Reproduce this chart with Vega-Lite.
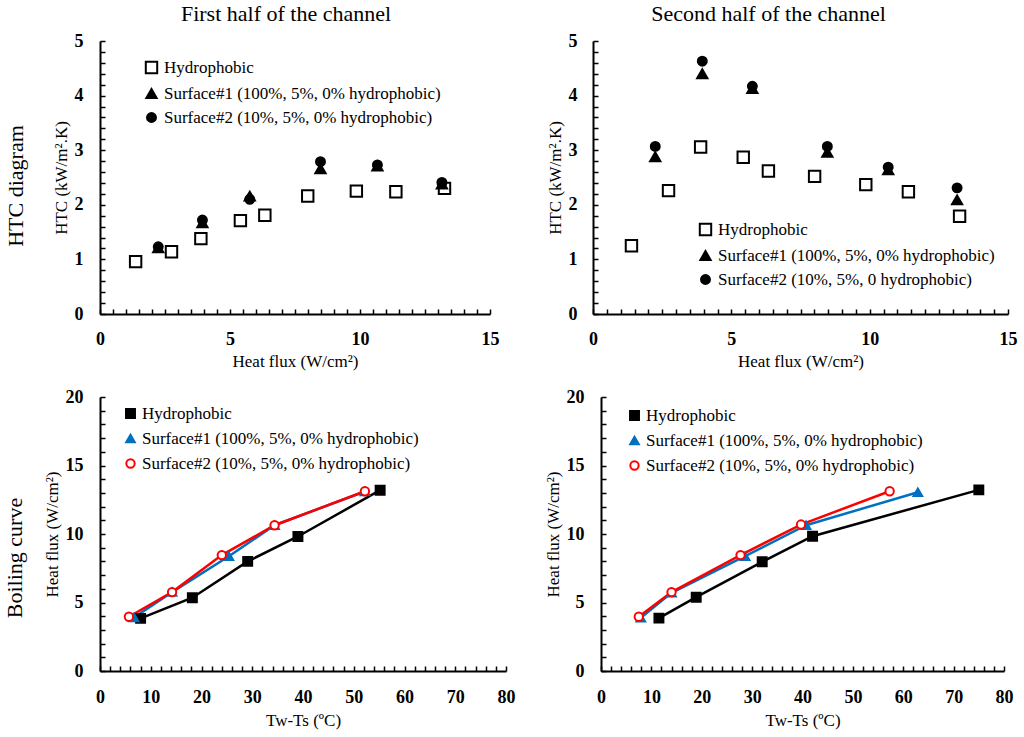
{
  "$schema": "https://vega.github.io/schema/vega-lite/v6.json",
  "padding": {"left": 4, "top": 3, "right": 4, "bottom": 3},
  "background": "white",
  "config": {
    "view": {"stroke": null},
    "font": "Liberation Serif",
    "axis": {
      "labelFont": "Liberation Serif",
      "labelFontWeight": "bold",
      "labelFontSize": 18,
      "labelColor": "black",
      "titleFont": "Liberation Serif",
      "titleFontWeight": "normal",
      "titleFontSize": 17,
      "titleColor": "black",
      "domainColor": "black",
      "domainWidth": 2,
      "tickColor": "black",
      "tickWidth": 1.5,
      "tickSize": -5,
      "grid": false,
      "format": "d",
      "labelOverlap": false,
      "labelFlush": false,
      "titlePadding": 4
    },
    "legend": {
      "title": null,
      "labelFont": "Liberation Serif",
      "labelFontSize": 17,
      "labelColor": "black",
      "labelLimit": 0,
      "labelOffset": 4,
      "rowPadding": 6,
      "symbolStrokeWidth": 2,
      "orient": "none"
    },
    "title": {
      "font": "Liberation Serif",
      "fontWeight": "normal",
      "fontSize": 22,
      "color": "black"
    }
  },
  "datasets": {
    "htc1": [
      {"s": "Hydrophobic", "q": 1.37, "h": 0.96},
      {"s": "Hydrophobic", "q": 2.75, "h": 1.14},
      {"s": "Hydrophobic", "q": 3.88, "h": 1.38},
      {"s": "Hydrophobic", "q": 5.4, "h": 1.71},
      {"s": "Hydrophobic", "q": 6.34, "h": 1.81},
      {"s": "Hydrophobic", "q": 7.99, "h": 2.16},
      {"s": "Hydrophobic", "q": 9.86, "h": 2.25},
      {"s": "Hydrophobic", "q": 11.38, "h": 2.24},
      {"s": "Hydrophobic", "q": 13.25, "h": 2.3},
      {"s": "Surface#1 (100%, 5%, 0% hydrophobic)", "q": 2.24, "h": 1.21},
      {"s": "Surface#1 (100%, 5%, 0% hydrophobic)", "q": 3.94, "h": 1.67},
      {"s": "Surface#1 (100%, 5%, 0% hydrophobic)", "q": 5.76, "h": 2.16},
      {"s": "Surface#1 (100%, 5%, 0% hydrophobic)", "q": 8.48, "h": 2.66},
      {"s": "Surface#1 (100%, 5%, 0% hydrophobic)", "q": 10.67, "h": 2.71},
      {"s": "Surface#1 (100%, 5%, 0% hydrophobic)", "q": 13.15, "h": 2.38},
      {"s": "Surface#2 (10%, 5%, 0% hydrophobic)", "q": 2.24, "h": 1.23},
      {"s": "Surface#2 (10%, 5%, 0% hydrophobic)", "q": 3.94, "h": 1.72},
      {"s": "Surface#2 (10%, 5%, 0% hydrophobic)", "q": 5.76, "h": 2.1},
      {"s": "Surface#2 (10%, 5%, 0% hydrophobic)", "q": 8.48, "h": 2.79},
      {"s": "Surface#2 (10%, 5%, 0% hydrophobic)", "q": 10.67, "h": 2.73},
      {"s": "Surface#2 (10%, 5%, 0% hydrophobic)", "q": 13.15, "h": 2.41}
    ],
    "htc2": [
      {"s": "Hydrophobic", "q": 1.39, "h": 1.25},
      {"s": "Hydrophobic", "q": 2.73, "h": 2.26},
      {"s": "Hydrophobic", "q": 3.89, "h": 3.06},
      {"s": "Hydrophobic", "q": 5.43, "h": 2.87},
      {"s": "Hydrophobic", "q": 6.34, "h": 2.62},
      {"s": "Hydrophobic", "q": 8.01, "h": 2.52},
      {"s": "Hydrophobic", "q": 9.86, "h": 2.37},
      {"s": "Hydrophobic", "q": 11.4, "h": 2.24},
      {"s": "Hydrophobic", "q": 13.25, "h": 1.79},
      {"s": "Surface#1 (100%, 5%, 0% hydrophobic)", "q": 2.25, "h": 2.88},
      {"s": "Surface#1 (100%, 5%, 0% hydrophobic)", "q": 3.95, "h": 4.4},
      {"s": "Surface#1 (100%, 5%, 0% hydrophobic)", "q": 5.76, "h": 4.13},
      {"s": "Surface#1 (100%, 5%, 0% hydrophobic)", "q": 8.47, "h": 2.96},
      {"s": "Surface#1 (100%, 5%, 0% hydrophobic)", "q": 10.67, "h": 2.64},
      {"s": "Surface#1 (100%, 5%, 0% hydrophobic)", "q": 13.16, "h": 2.09},
      {"s": "Surface#2 (10%, 5%, 0 hydrophobic)", "q": 2.25, "h": 3.07},
      {"s": "Surface#2 (10%, 5%, 0 hydrophobic)", "q": 3.95, "h": 4.63},
      {"s": "Surface#2 (10%, 5%, 0 hydrophobic)", "q": 5.76, "h": 4.17},
      {"s": "Surface#2 (10%, 5%, 0 hydrophobic)", "q": 8.47, "h": 3.07},
      {"s": "Surface#2 (10%, 5%, 0 hydrophobic)", "q": 10.67, "h": 2.69},
      {"s": "Surface#2 (10%, 5%, 0 hydrophobic)", "q": 13.16, "h": 2.31}
    ],
    "boil1": [
      {"s": "Hydrophobic", "t": 8.0, "q": 3.84},
      {"s": "Hydrophobic", "t": 18.2, "q": 5.35},
      {"s": "Hydrophobic", "t": 29.1, "q": 8.0},
      {"s": "Hydrophobic", "t": 39.0, "q": 9.82},
      {"s": "Hydrophobic", "t": 55.2, "q": 13.2},
      {"s": "Surface#1 (100%, 5%, 0% hydrophobic)", "t": 6.7, "q": 3.9},
      {"s": "Surface#1 (100%, 5%, 0% hydrophobic)", "t": 14.2, "q": 5.76},
      {"s": "Surface#1 (100%, 5%, 0% hydrophobic)", "t": 25.4, "q": 8.38},
      {"s": "Surface#1 (100%, 5%, 0% hydrophobic)", "t": 34.4, "q": 10.64},
      {"s": "Surface#1 (100%, 5%, 0% hydrophobic)", "t": 52.2, "q": 13.1},
      {"s": "Surface#2 (10%, 5%, 0% hydrophobic)", "t": 5.7, "q": 3.96},
      {"s": "Surface#2 (10%, 5%, 0% hydrophobic)", "t": 14.2, "q": 5.76},
      {"s": "Surface#2 (10%, 5%, 0% hydrophobic)", "t": 24.0, "q": 8.46},
      {"s": "Surface#2 (10%, 5%, 0% hydrophobic)", "t": 34.4, "q": 10.64},
      {"s": "Surface#2 (10%, 5%, 0% hydrophobic)", "t": 52.2, "q": 13.12}
    ],
    "boil2": [
      {"s": "Hydrophobic", "t": 11.5, "q": 3.86},
      {"s": "Hydrophobic", "t": 18.9, "q": 5.39},
      {"s": "Hydrophobic", "t": 32.0, "q": 7.97},
      {"s": "Hydrophobic", "t": 42.0, "q": 9.84},
      {"s": "Hydrophobic", "t": 75.0, "q": 13.22},
      {"s": "Surface#1 (100%, 5%, 0% hydrophobic)", "t": 7.9, "q": 3.89},
      {"s": "Surface#1 (100%, 5%, 0% hydrophobic)", "t": 14.0, "q": 5.71},
      {"s": "Surface#1 (100%, 5%, 0% hydrophobic)", "t": 28.6, "q": 8.38},
      {"s": "Surface#1 (100%, 5%, 0% hydrophobic)", "t": 40.7, "q": 10.64},
      {"s": "Surface#1 (100%, 5%, 0% hydrophobic)", "t": 62.9, "q": 13.05},
      {"s": "Surface#2 (10%, 5%, 0% hydrophobic)", "t": 7.5, "q": 3.96},
      {"s": "Surface#2 (10%, 5%, 0% hydrophobic)", "t": 14.0, "q": 5.76},
      {"s": "Surface#2 (10%, 5%, 0% hydrophobic)", "t": 27.7, "q": 8.46},
      {"s": "Surface#2 (10%, 5%, 0% hydrophobic)", "t": 39.7, "q": 10.69},
      {"s": "Surface#2 (10%, 5%, 0% hydrophobic)", "t": 57.3, "q": 13.12}
    ]
  },
  "spacing": 19,
  "resolve": {
    "scale": {"shape": "independent", "fill": "independent", "stroke": "independent", "size": "independent", "color": "independent"}
  },
  "vconcat": [
    {
      "title": {"text": "HTC diagram", "orient": "left", "anchor": "middle", "fontSize": 22, "offset": 24},
      "spacing": 47,
      "resolve": {
        "scale": {"shape": "independent", "fill": "independent", "stroke": "independent", "size": "independent"}
      },
      "hconcat": [
        {
          "title": {"text": "First half of the channel", "offset": 6, "dx": -9},
          "width": 390,
          "height": 273,
          "data": {"name": "htc1"},
          "mark": {"type": "point", "strokeWidth": 2, "opacity": 1},
          "encoding": {
            "x": {
              "field": "q", "type": "quantitative", "title": "Heat flux (W/cm²)",
              "scale": {"domain": [0, 15], "nice": false},
              "axis": {
                "values": [0, 0.5, 1, 1.5, 2, 2.5, 3, 3.5, 4, 4.5, 5, 5.5, 6, 6.5, 7, 7.5, 8, 8.5, 9, 9.5, 10, 10.5, 11, 11.5, 12, 12.5, 13, 13.5, 14, 14.5, 15],
                "labelExpr": "datum.value % 5 == 0 ? datum.label : ''",
                "labelPadding": 21, "titlePadding": 5
              }
            },
            "y": {
              "field": "h", "type": "quantitative", "title": "HTC (kW/m².K)",
              "scale": {"domain": [0, 5], "nice": false},
              "axis": {
                "values": [0, 0.2, 0.4, 0.6, 0.8, 1, 1.2, 1.4, 1.6, 1.8, 2, 2.2, 2.4, 2.6, 2.8, 3, 3.2, 3.4, 3.6, 3.8, 4, 4.2, 4.4, 4.6, 4.8, 5],
                "labelExpr": "datum.value % 1 == 0 ? datum.label : ''",
                "labelPadding": 22
              }
            },
            "shape": {
              "field": "s", "type": "nominal", "sort": null,
              "scale": {"range": ["square", "triangle-up", "circle"]},
              "legend": {"legendX": 43, "legendY": 18}
            },
            "fill": {
              "field": "s", "type": "nominal", "sort": null,
              "scale": {"range": ["white", "black", "black"]}
            },
            "stroke": {
              "field": "s", "type": "nominal", "sort": null,
              "scale": {"range": ["black", "black", "black"]}
            },
            "size": {
              "field": "s", "type": "nominal", "sort": null,
              "scale": {"range": [130, 80, 90]}
            }
          }
        },
        {
          "title": {"text": "Second half of the channel", "offset": 6, "dx": -32},
          "width": 415,
          "height": 273,
          "data": {"name": "htc2"},
          "mark": {"type": "point", "strokeWidth": 2, "opacity": 1},
          "encoding": {
            "x": {
              "field": "q", "type": "quantitative", "title": "Heat flux (W/cm²)",
              "scale": {"domain": [0, 15], "nice": false},
              "axis": {
                "values": [0, 0.5, 1, 1.5, 2, 2.5, 3, 3.5, 4, 4.5, 5, 5.5, 6, 6.5, 7, 7.5, 8, 8.5, 9, 9.5, 10, 10.5, 11, 11.5, 12, 12.5, 13, 13.5, 14, 14.5, 15],
                "labelExpr": "datum.value % 5 == 0 ? datum.label : ''",
                "labelPadding": 21, "titlePadding": 5
              }
            },
            "y": {
              "field": "h", "type": "quantitative", "title": "HTC (kW/m².K)",
              "scale": {"domain": [0, 5], "nice": false},
              "axis": {
                "values": [0, 0.2, 0.4, 0.6, 0.8, 1, 1.2, 1.4, 1.6, 1.8, 2, 2.2, 2.4, 2.6, 2.8, 3, 3.2, 3.4, 3.6, 3.8, 4, 4.2, 4.4, 4.6, 4.8, 5],
                "labelExpr": "datum.value % 1 == 0 ? datum.label : ''",
                "labelPadding": 21
              }
            },
            "shape": {
              "field": "s", "type": "nominal", "sort": null,
              "scale": {"range": ["square", "triangle-up", "circle"]},
              "legend": {"legendX": 104, "legendY": 180}
            },
            "fill": {
              "field": "s", "type": "nominal", "sort": null,
              "scale": {"range": ["white", "black", "black"]}
            },
            "stroke": {
              "field": "s", "type": "nominal", "sort": null,
              "scale": {"range": ["black", "black", "black"]}
            },
            "size": {
              "field": "s", "type": "nominal", "sort": null,
              "scale": {"range": [130, 80, 90]}
            }
          }
        }
      ]
    },
    {
      "title": {"text": "Boiling curve", "orient": "left", "anchor": "middle", "fontSize": 22, "offset": 16},
      "spacing": 29,
      "resolve": {
        "scale": {"shape": "independent", "fill": "independent", "stroke": "independent", "size": "independent", "color": "independent"}
      },
      "hconcat": [
        {
          "width": 406,
          "height": 274,
          "data": {"name": "boil1"},
          "encoding": {
            "x": {
              "field": "t", "type": "quantitative", "title": "Tw-Ts (ºC)",
              "scale": {"domain": [0, 80], "nice": false},
              "axis": {
                "values": [0, 2, 4, 6, 8, 10, 12, 14, 16, 18, 20, 22, 24, 26, 28, 30, 32, 34, 36, 38, 40, 42, 44, 46, 48, 50, 52, 54, 56, 58, 60, 62, 64, 66, 68, 70, 72, 74, 76, 78, 80],
                "labelExpr": "datum.value % 10 == 0 ? datum.label : ''",
                "labelPadding": 22, "titlePadding": 6
              }
            },
            "y": {
              "field": "q", "type": "quantitative", "title": "Heat flux (W/cm²)",
              "scale": {"domain": [0, 20], "nice": false},
              "axis": {
                "values": [0, 1, 2, 3, 4, 5, 6, 7, 8, 9, 10, 11, 12, 13, 14, 15, 16, 17, 18, 19, 20],
                "labelExpr": "datum.value % 5 == 0 ? datum.label : ''",
                "labelPadding": 22
              }
            }
          },
          "layer": [
            {
              "mark": {"type": "line", "strokeWidth": 2.5},
              "encoding": {
                "color": {
                  "field": "s", "type": "nominal", "sort": null, "legend": null,
                  "scale": {"range": ["black", "#0070C0", "#FF0000"]}
                }
              }
            },
            {
              "mark": {"type": "point", "strokeWidth": 2, "opacity": 1},
              "encoding": {
                "shape": {
                  "field": "s", "type": "nominal", "sort": null,
                  "scale": {"range": ["square", "triangle-up", "circle"]},
                  "legend": {"legendX": 22, "legendY": 8, "labelOffset": 3, "rowPadding": 7}
                },
                "fill": {
                  "field": "s", "type": "nominal", "sort": null,
                  "scale": {"range": ["black", "#0070C0", "white"]}
                },
                "stroke": {
                  "field": "s", "type": "nominal", "sort": null,
                  "scale": {"range": ["black", "#0070C0", "#FF0000"]}
                },
                "size": {
                  "field": "s", "type": "nominal", "sort": null,
                  "scale": {"range": [80, 70, 90]}
                }
              }
            }
          ]
        },
        {
          "width": 403,
          "height": 274,
          "data": {"name": "boil2"},
          "encoding": {
            "x": {
              "field": "t", "type": "quantitative", "title": "Tw-Ts (ºC)",
              "scale": {"domain": [0, 80], "nice": false},
              "axis": {
                "values": [0, 2, 4, 6, 8, 10, 12, 14, 16, 18, 20, 22, 24, 26, 28, 30, 32, 34, 36, 38, 40, 42, 44, 46, 48, 50, 52, 54, 56, 58, 60, 62, 64, 66, 68, 70, 72, 74, 76, 78, 80],
                "labelExpr": "datum.value % 10 == 0 ? datum.label : ''",
                "labelPadding": 22, "titlePadding": 6
              }
            },
            "y": {
              "field": "q", "type": "quantitative", "title": "Heat flux (W/cm²)",
              "scale": {"domain": [0, 20], "nice": false},
              "axis": {
                "values": [0, 1, 2, 3, 4, 5, 6, 7, 8, 9, 10, 11, 12, 13, 14, 15, 16, 17, 18, 19, 20],
                "labelExpr": "datum.value % 5 == 0 ? datum.label : ''",
                "labelPadding": 22
              }
            }
          },
          "layer": [
            {
              "mark": {"type": "line", "strokeWidth": 2.5},
              "encoding": {
                "color": {
                  "field": "s", "type": "nominal", "sort": null, "legend": null,
                  "scale": {"range": ["black", "#0070C0", "#FF0000"]}
                }
              }
            },
            {
              "mark": {"type": "point", "strokeWidth": 2, "opacity": 1},
              "encoding": {
                "shape": {
                  "field": "s", "type": "nominal", "sort": null,
                  "scale": {"range": ["square", "triangle-up", "circle"]},
                  "legend": {"legendX": 25, "legendY": 10, "labelOffset": 3, "rowPadding": 7}
                },
                "fill": {
                  "field": "s", "type": "nominal", "sort": null,
                  "scale": {"range": ["black", "#0070C0", "white"]}
                },
                "stroke": {
                  "field": "s", "type": "nominal", "sort": null,
                  "scale": {"range": ["black", "#0070C0", "#FF0000"]}
                },
                "size": {
                  "field": "s", "type": "nominal", "sort": null,
                  "scale": {"range": [80, 70, 90]}
                }
              }
            }
          ]
        }
      ]
    }
  ]
}
